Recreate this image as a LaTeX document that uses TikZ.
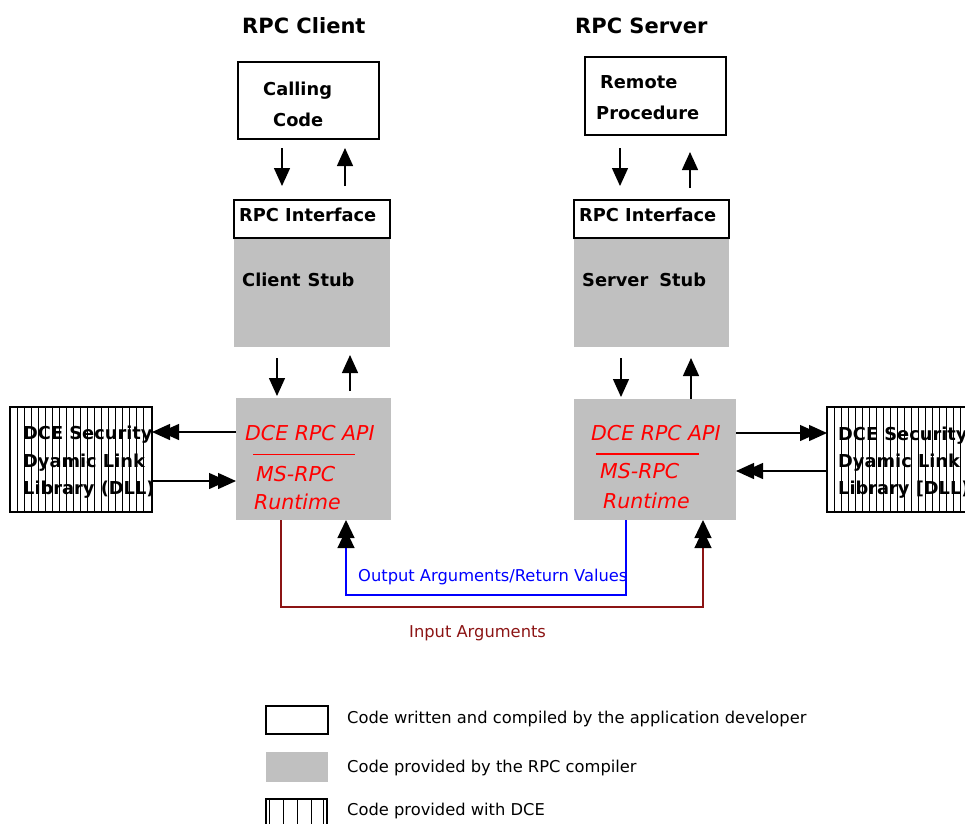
\documentclass[tikz,border=0pt]{standalone}
\usepackage{fontspec}
\setmainfont{DejaVu Sans}
\usetikzlibrary{arrows.meta}
\definecolor{rpcgray}{RGB}{192,192,192}
\definecolor{inpred}{RGB}{140,20,20}
\definecolor{rpcred}{RGB}{255,0,0}
\definecolor{rpcblue}{RGB}{0,0,255}
\newcommand\myfs[1]{\fontsize{#1}{#1}\selectfont}
\begin{document}
\begin{tikzpicture}[x=1pt,y=-1pt,
  devbox/.style={draw=black,line width=1.4pt,fill=white,anchor=north west,inner sep=0pt,outer sep=0pt},
  stubbox/.style={fill=rpcgray,draw=none,anchor=north west,inner sep=0pt,outer sep=0pt},
  dcebox/.style={draw=black,line width=1.4pt,fill=white,anchor=north west,inner sep=0pt,outer sep=0pt},
  hatch/.style={draw=black,line width=1pt},
  titlelbl/.style={anchor=base west,inner sep=0pt,font=\myfs{21}\bfseries},
  boxlbl/.style={anchor=base west,inner sep=0pt,font=\myfs{17.8}\bfseries},
  redlbl/.style={anchor=base west,inner sep=0pt,text=rpcred,font=\myfs{20.5}\itshape},
  leglbl/.style={anchor=base west,inner sep=0pt,font=\myfs{16.3}},
  arr/.style={line width=1.4pt,-{Triangle[length=18pt,width=16pt]}},
  bigarr/.style={line width=1.4pt,-{Triangle[length=18pt,width=16pt,sep=-9pt]Triangle[length=18pt,width=16pt]}},
  outarr/.style={draw=rpcblue,line width=1.3pt,-{Triangle[length=18pt,width=17pt,color=black,sep=-8pt]Triangle[length=18pt,width=17pt,color=black]}},
  inarr/.style={draw=inpred,line width=1.3pt,-{Triangle[length=18pt,width=17pt,color=black,sep=-8pt]Triangle[length=18pt,width=17pt,color=black]}}
]
\useasboundingbox (0,0) rectangle (965,823);
\clip (0,0) rectangle (965,823);

% titles
\node[titlelbl] (tcli) at (242,33) {RPC Client};
\node[titlelbl] (tsrv) at (575,33) {RPC Server};

% developer boxes
\node[devbox,minimum width=141pt,minimum height=77pt] (calling) at (238,62) {};
\node[boxlbl] (callingA) at (263,95) {Calling};
\node[boxlbl] (callingB) at (273,126) {Code};
\node[devbox,minimum width=141pt,minimum height=78pt] (remote) at (585,57) {};
\node[boxlbl] (remoteA) at (600,88) {Remote};
\node[boxlbl] (remoteB) at (596,119) {Procedure};

% stubs
\node[stubbox,minimum width=156pt,minimum height=109pt] (cstub) at (234,238) {};
\node[devbox,minimum width=156pt,minimum height=38pt] (cifc) at (234,200) {};
\node[boxlbl] (cifcl) at (239,221) {RPC Interface};
\node[boxlbl] (cstubl) at (242,286) {Client\hspace{7pt}Stub};
\node[stubbox,minimum width=155pt,minimum height=109pt] (sstub) at (574,238) {};
\node[devbox,minimum width=155pt,minimum height=38pt] (sifc) at (574,200) {};
\node[boxlbl] (sifcl) at (579,221) {RPC Interface};
\node[boxlbl] (sstubl) at (582,286) {Server\hspace{11pt}Stub};

% runtimes
\node[stubbox,minimum width=155pt,minimum height=122pt] (clirt) at (236,398) {};
\node[redlbl] (cli1) at (245,440) {DCE RPC API};
\node[redlbl] (cli2) at (256,481) {MS-RPC};
\node[redlbl] (cli3) at (254,509) {Runtime};
\coordinate (clil1) at (253,454.5);
\coordinate (clil2) at (355,454.5);
\draw[rpcred,line width=1.3pt] (clil1) -- (clil2);
\node[stubbox,minimum width=162pt,minimum height=121pt] (srvrt) at (574,399) {};
\node[redlbl] (srv1) at (591,440) {DCE RPC API};
\node[redlbl] (srv2) at (600,478) {MS-RPC};
\node[redlbl] (srv3) at (603,508) {Runtime};
\coordinate (srvl1) at (596,454);
\coordinate (srvl2) at (699,454);
\draw[rpcred,line width=1.3pt] (srvl1) -- (srvl2);

% DCE boxes
\node[dcebox,minimum width=142pt,minimum height=105pt] (dceL) at (10,407) {};
\foreach \k in {1,...,19}
  \draw[hatch] ([xshift={\k*7pt}]dceL.north west) -- ([xshift={\k*7pt}]dceL.south west);
\node[boxlbl] (dceLa) at (23,439) {DCE Security};
\node[boxlbl] (dceLb) at (23,467) {Dyamic Link};
\node[boxlbl] (dceLc) at (23,494) {Library (DLL)};
\node[dcebox,minimum width=150pt,minimum height=105pt] (dceR) at (827,407) {};
\foreach \k in {1,...,20}
  \draw[hatch] ([xshift={\k*7pt}]dceR.north west) -- ([xshift={\k*7pt}]dceR.south west);
\node[boxlbl] (dceRa) at (838,440) {DCE Security};
\node[boxlbl] (dceRb) at (838,467) {Dyamic Link};
\node[boxlbl] (dceRc) at (838,494) {Library [DLL)};

% top arrows
\draw[arr,shorten <=9pt,shorten >=14pt] ([xshift=-26.5pt]calling.south) -- ([xshift=-26.5pt]calling.south |- cifc.north);
\draw[arr,shorten <=14pt,shorten >=9pt] ([xshift=36.5pt]calling.south |- cifc.north) -- ([xshift=36.5pt]calling.south);
\draw[arr,shorten <=13pt,shorten >=14pt] ([xshift=-35.5pt]remote.south) -- ([xshift=-35.5pt]remote.south |- sifc.north);
\draw[arr,shorten <=12pt,shorten >=17pt] ([xshift=34.5pt]remote.south |- sifc.north) -- ([xshift=34.5pt]remote.south);

% middle arrows
\draw[arr,shorten <=11pt,shorten >=2pt] ([xshift=-35pt]cstub.south) -- ([xshift=-35pt]cstub.south |- clirt.north);
\draw[arr,shorten <=7pt,shorten >=8pt] ([xshift=38pt]cstub.south |- clirt.north) -- ([xshift=38pt]cstub.south);
\draw[arr,shorten <=11pt,shorten >=2pt] ([xshift=-30.5pt]sstub.south) -- ([xshift=-30.5pt]sstub.south |- srvrt.north);
\draw[arr,shorten <=0pt,shorten >=11pt] ([xshift=39.5pt]sstub.south |- srvrt.north) -- ([xshift=39.5pt]sstub.south);

% side arrows
\draw[bigarr] ([yshift=27pt]clirt.west) -- ([yshift=27pt]clirt.west -| dceL.east);
\draw[bigarr] ([yshift=-22pt]clirt.west -| dceL.east) -- ([yshift=-22pt]clirt.west);
\draw[bigarr] ([yshift=26.5pt]srvrt.east) -- ([yshift=26.5pt]srvrt.east -| dceR.west);
\draw[bigarr] ([yshift=-11.5pt]srvrt.east -| dceR.west) -- ([yshift=-11.5pt]srvrt.east);

% argument flows
\draw[outarr] ([xshift=-29pt]srvrt.south) -- ++(0,75) -| ([xshift=32.5pt]clirt.south);
\node[leglbl,text=rpcblue] (outlbl) at (358,581.5) {Output Arguments/Return Values};
\draw[inarr] ([xshift=-32.5pt]clirt.south) -- ++(0,87) -| ([xshift=48pt]srvrt.south);
\node[leglbl,text=inpred] (inlbl) at (409,637) {Input Arguments};

% legend
\node[devbox,minimum width=62pt,minimum height=28pt] (legdev) at (266,706) {};
\node[leglbl] (legdevl) at (347,723) {Code written and compiled by the application developer};
\node[stubbox,minimum width=62pt,minimum height=30pt] (leggray) at (266,752) {};
\node[leglbl] (leggrayl) at (347,772) {Code provided by the RPC compiler};
\node[dcebox,minimum width=61pt,minimum height=40pt] (legdce) at (266,799) {};
\foreach \d in {3,17,31,45,57}
  \draw[hatch] ([xshift={\d*1pt}]legdce.north west) -- ([xshift={\d*1pt}]legdce.south west);
\node[leglbl] (legdcel) at (347,815.5) {Code provided with DCE};
\end{tikzpicture}
\end{document}
